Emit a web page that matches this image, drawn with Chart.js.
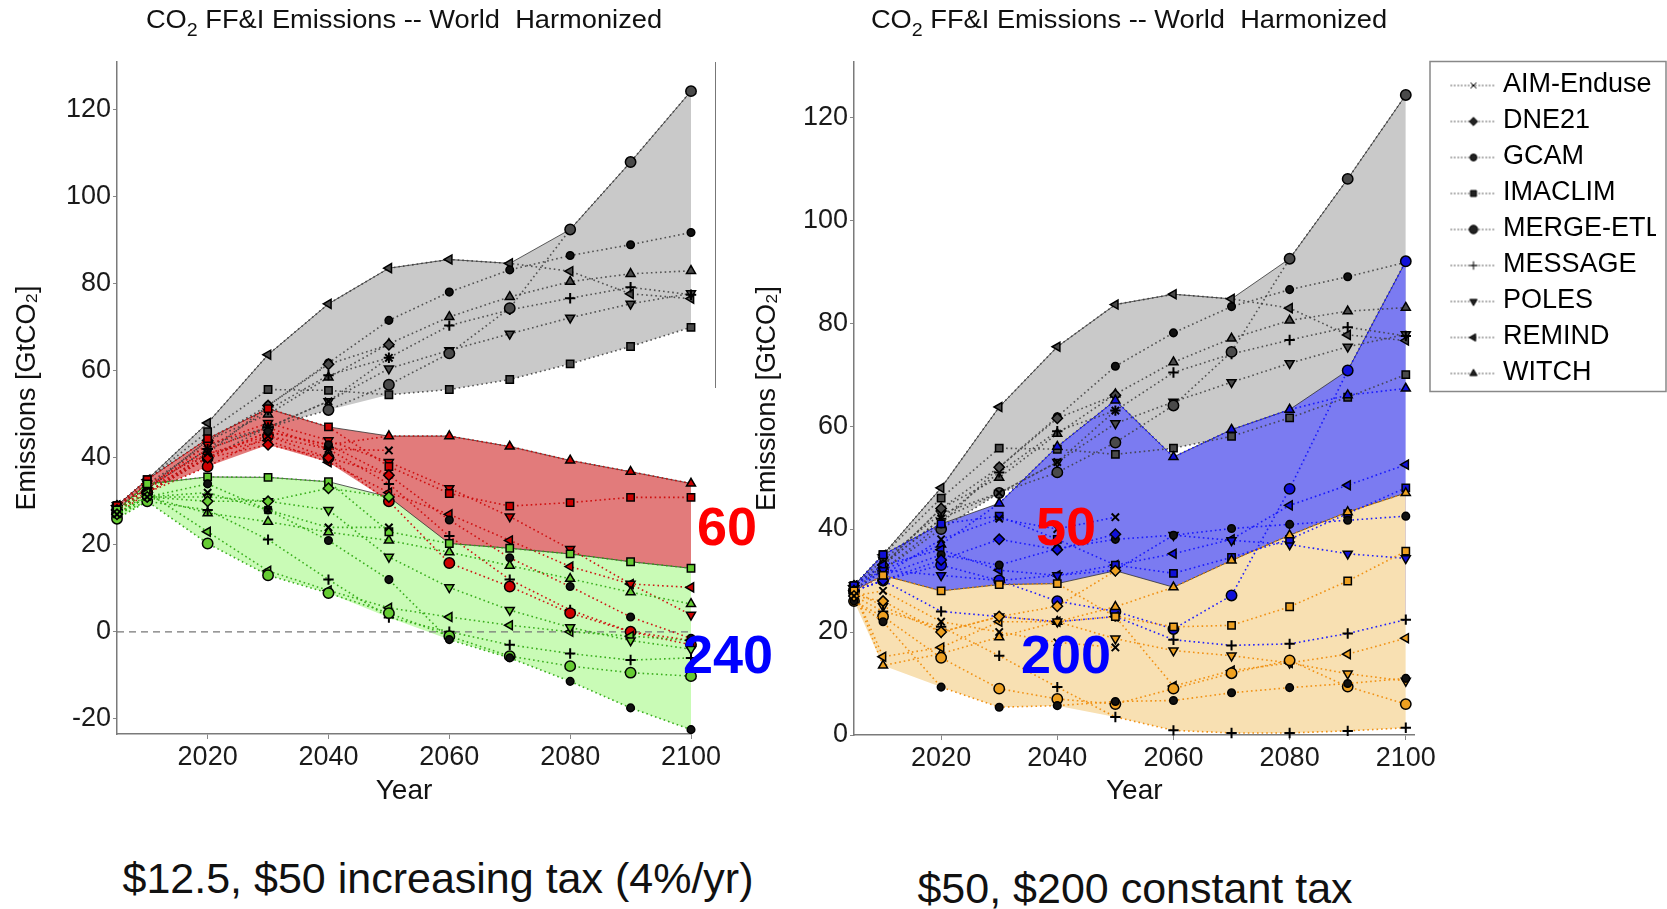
<!DOCTYPE html>
<html>
<head>
<meta charset="utf-8">
<script src="https://cdn.jsdelivr.net/npm/chart.js@4.4.1/dist/chart.umd.min.js"></script>
<style>
  body { margin: 0; background: #fff; width: 1667px; height: 909px; position: relative; overflow: hidden;
         font-family: "Liberation Sans", Arial, sans-serif; color: #111; }
  canvas { position: absolute; top: 0; }
  .title { position: absolute; top: 5px; font-size: 25px; white-space: pre; transform: translateX(-50%) scaleX(1.09); }
  .title sub { font-size: 18px; vertical-align: -8px; }
  .tag { position: absolute; font-weight: bold; font-size: 54px; transform: translate(-50%, -50%); }
  .caption { position: absolute; font-size: 43px; white-space: pre; transform: translate(-50%, -50%); }
  #edge { position: absolute; left: 715px; top: 62px; height: 326px; border-left: 1.5px solid #777; }
</style>
</head>
<body>
<canvas id="left" width="740" height="812" style="left:0"></canvas>
<canvas id="right" width="947" height="812" style="left:720px"></canvas>
<div id="edge"></div>

<div class="title" style="left:404px">CO<sub>2</sub> FF&amp;I Emissions -- World  Harmonized</div>
<div class="title" style="left:1129px">CO<sub>2</sub> FF&amp;I Emissions -- World  Harmonized</div>

<div class="tag" style="left:727px;top:526px;color:#f00">60</div>
<div class="tag" style="left:728px;top:654px;color:#00f">240</div>
<div class="tag" style="left:1066px;top:526px;color:#f00">50</div>
<div class="tag" style="left:1066px;top:654px;color:#00f">200</div>

<div class="caption" style="left:438px;top:878px">$12.5, $50 increasing tax (4%/yr)</div>
<div class="caption" style="left:1135px;top:888px">$50, $200 constant tax</div>

<script>
// ── Data (GtCO2 per model, one value per year) ───────────────────
const years = [2005, 2010, 2020, 2030, 2040, 2050, 2060, 2070, 2080, 2090, 2100];
const models = ['AIM-Enduse', 'DNE21', 'GCAM', 'IMACLIM', 'MERGE-ETL', 'MESSAGE', 'POLES', 'REMIND', 'WITCH'];
const xTicks = [2020, 2040, 2060, 2080, 2100];
const yTicksLeft = [-20, 0, 20, 40, 60, 80, 100, 120];
const yTicksRight = [0, 20, 40, 60, 80, 100, 120];

// baseline, shared by both panels
const baseline = [
    [29, 33, 42, 47, 53, 63, null, null, null, null, null],
    [29, 33, 44, 52, 61.5, 66, null, null, null, null, null],
    [28, 32, 41, 52, 61.8, 71.6, 78.1, 83.2, 86.5, 89, 91.8],
    [29, 35, 46, 55.7, 55.5, 54.5, 55.7, 58, 61.6, 65.6, 70],
    [28, 32, 40, 47, 51, 56.8, 64, 74.4, 92.5, 108, 124.3],
    [29, 33, 42, 51, 59, 63, 70.4, 74, 76.7, 79.2, 77.5],
    [29, 34, 43, 47, 53, 60.5, 64.7, 68.5, 72.2, 75.4, 77.8],
    [29, 35, 48, 63.7, 75.4, 83.6, 85.6, 84.7, 82.9, 77.7, 76.6],
    [28, 33, 44, 50, 58.5, 66.2, 72.4, 77, 80.5, 82.3, 83]
];

// $12.5 increasing tax (red)
const incrLow = [
    [28, 32, 41, 45, 42, 41.7, null, null, null, null, null],
    [28, 32, 40, 43, 40, 36, null, null, null, null, null],
    [28, 32, 40, 46, 43, 36, 25.7, 17, 10.4, 3.4, -1.5],
    [29, 35, 44.4, 51.3, 47.1, 38, 31.8, 28.9, 29.7, 30.9, 30.9],
    [27, 32, 38, 45, 40, 30, 15.8, 10.4, 4.3, 0, -3],
    [28, 33, 42, 47, 42, 34, 22, 12, 5, 0, -2],
    [29, 33, 43, 48, 44, 39, 33, 26.5, 19, 11, 3.9],
    [29, 34, 41, 44, 39, 32, 27, 21, 15, 11, 10.2],
    [28, 33, 40, 46, 43, 45, 45, 42.6, 39.4, 36.8, 34.1]
];

// $50 increasing tax (green)
const incrHigh = [
    [27, 31, 32, 28, 24, 24, null, null, null, null, null],
    [27, 31, 30, 30, 33, 31, null, null, null, null, null],
    [27, 31, 34, 28, 21, 12, -1.8, -6, -11.4, -17.5, -22.5],
    [28, 34, 35.6, 35.5, 34.5, 23, 20.3, 19.2, 17.9, 16.1, 14.6],
    [26, 30, 20.3, 13, 8.9, 4.3, -1, -5.6, -7.9, -9.4, -10.2],
    [27, 30, 28, 21.2, 12, 3.3, 0, -3, -5, -6.5, -6],
    [28, 31, 31, 30, 28, 17.2, 10.2, 5, 1, -2, -4],
    [28, 32, 23, 14, 9.5, 5.5, 3.4, 1.5, 0, -1, -2],
    [27, 31, 27.3, 25.3, 22.9, 21, 18.3, 15.2, 12.2, 9.1, 6.4]
];

// $50 constant tax (blue)
const constLow = [
    [28, 31, 38, 42, 40, 42.3, null, null, null, null, null],
    [28, 30, 34, 38, 36, 39, null, null, null, null, null],
    [28, 31, 35, 33, 36.2, 38, 38.8, 40.1, 40.9, 41.7, 42.5],
    [29, 35, 41, 42.5, 38, 33, 31.4, 34.5, 38, 43, 48],
    [28, 30, 33, 30, 26, 24, 20.6, 27.1, 47.8, 70.8, 92],
    [28, 30, 24, 23, 22, 23, 18.5, 17.4, 17.7, 19.7, 22.4],
    [29, 32, 31, 30, 31, 32, 38.8, 37.8, 37, 35.2, 34.3],
    [29, 33, 36, 32, 31, 33, 35.2, 38, 44.6, 48.5, 52.5],
    [28, 32, 37, 45, 56, 65, 54, 59.3, 63.2, 66, 67.3]
];

// $200 constant tax (orange)
const constHigh = [
    [27, 28, 22, 20, 18, 17, null, null, null, null, null],
    [27, 26, 20, 23, 25, 31.9, null, null, null, null, null],
    [26, 22, 9.3, 5.4, 5.7, 6.5, 6.7, 8.2, 9.2, 10, 11],
    [28, 31, 28, 29.2, 29.4, 23, 21, 21.3, 24.9, 29.9, 35.7],
    [26, 23, 15, 9, 7, 6, 9, 12, 14.5, 9.4, 6],
    [27, 24, 21, 15.4, 9.3, 3.5, 0.9, 0.4, 0.4, 0.8, 1.4],
    [28, 25, 20, 23, 22, 18.7, 16.4, 15.4, 14, 11.9, 10.5],
    [28, 15.2, 17, 22, 22, 23, 9.5, 12.5, 14, 15.7, 18.8],
    [28, 13.5, 15.8, 19, 22, 24.9, 28.7, 33.9, 38.8, 43.3, 47]
];

// ── Styles ───────────────────────────────────────────────────────
const pointStyles = ['crossRot', 'rectRot', 'circle', 'rect', 'circle', 'cross', 'triangle', 'triangle', 'triangle'];
const pointRot    = [0, 0, 0, 0, 0, 0, 180, 270, 0];

const GRAY   = { band: '#c9c9c9', line: 'rgba(60,60,60,0.85)', fill: '#4a4a4a' };
const RED    = { band: '#e27b7b', line: 'rgba(205,10,10,0.95)', fill: '#cc0000' };
const GREEN  = { band: '#c9fbb6', line: 'rgba(50,170,20,0.95)', fill: '#66cc33' };
const BLUE   = { band: '#7b7bf1', line: 'rgba(20,20,255,0.95)', fill: '#1010d8' };
const ORANGE = { band: '#f8e0b2', line: 'rgba(240,140,10,0.95)', fill: '#eea020' };

Chart.defaults.font.family = '"Liberation Sans", Arial, sans-serif';
Chart.defaults.color = '#222';

// ── Dataset builders ─────────────────────────────────────────────
function envelope(series, fn) {
    return years.map((x, i) => {
        const vals = series.map(s => s[i]).filter(v => v !== null);
        return { x, y: fn(...vals) };
    });
}

function bandSets(series, sc, order) {
    return [
        { data: envelope(series, Math.max), borderColor: 'rgba(40,40,40,0.75)', borderWidth: 1,
          pointRadius: 0, fill: false, order },
        { data: envelope(series, Math.min), borderColor: 'rgba(0,0,0,0)', borderWidth: 0,
          pointRadius: 0, fill: '-1', backgroundColor: sc.band, order }
    ];
}

function modelSets(series, sc, order) {
    return series.map((vals, m) => ({
        label: models[m],
        data: years.map((x, i) => ({ x, y: vals[i] })),
        borderColor: sc.line,
        borderWidth: 1.6,
        borderDash: [1.6, 3],
        pointStyle: pointStyles[m],
        pointRotation: pointRot[m],
        pointRadius: m === 2 ? 3.8 : 5.2,
        pointBackgroundColor: m === 2 ? '#111' : sc.fill,
        pointBorderColor: '#000',
        pointBorderWidth: (m === 0 || m === 5) ? 2 : 1.5,
        fill: false,
        clip: false,
        spanGaps: false,
        order
    }));
}

// ── Legend icons: dotted line with the marker ────────────────────
function legendIcon(m) {
    const c = document.createElement('canvas');
    c.width = 78; c.height = 20;
    const ctx = c.getContext('2d');
    ctx.strokeStyle = '#777';
    ctx.lineWidth = 1.3;
    ctx.setLineDash([1.5, 2]);
    ctx.beginPath(); ctx.moveTo(33, 11); ctx.lineTo(78, 11); ctx.stroke();
    ctx.setLineDash([]);
    ctx.fillStyle = '#222';
    ctx.strokeStyle = '#000';
    ctx.lineWidth = 1;
    Chart.helpers.drawPoint(ctx, { pointStyle: pointStyles[m], rotation: pointRot[m],
        radius: m === 2 ? 3.4 : 4.2, borderWidth: 1 }, 56, 11);
    return c;
}

const legendBox = {
    id: 'legendBox',
    afterDraw(chart) {
        const boxes = chart.legend && chart.legend.legendHitBoxes;
        if (!boxes || !boxes.length) return;
        const first = boxes[0], last = boxes[boxes.length - 1];
        const textX = first.left + 66 + 13.5;
        const right = Math.max(...boxes.map(b => b.left + b.width));
        const top = first.top + first.height / 2 - 23;
        const bottom = last.top + last.height / 2 + 19;
        const ctx = chart.ctx;
        ctx.save();
        ctx.strokeStyle = '#888';
        ctx.lineWidth = 1.5;
        ctx.strokeRect(textX - 73, top, Math.min(right + 9, chart.width - 1) - (textX - 73), bottom - top);
        ctx.restore();
    }
};

// ── Chart factory ────────────────────────────────────────────────
function makeChart(id, datasets, o) {
    return new Chart(document.getElementById(id), {
        type: 'line',
        data: { datasets },
        options: {
            responsive: false,
            animation: false,
            layout: { padding: o.padding },
            plugins: { legend: o.legend, tooltip: { enabled: false } },
            scales: {
                x: {
                    type: 'linear', min: 2005, max: o.xMax,
                    afterBuildTicks: s => { s.ticks = xTicks.map(v => ({ value: v })); },
                    afterFit: s => { s.height = o.xH; },
                    grid: { drawOnChartArea: false, tickLength: 5, color: '#888' },
                    border: { color: '#7a7a7a', width: 1.5 },
                    ticks: { font: { size: 27 }, padding: 2, maxRotation: 0, color: '#1a1a1a', callback: v => String(v) },
                    title: { display: true, text: 'Year', font: { size: 28 }, color: '#111',
                             padding: { top: 0, bottom: 4 } }
                },
                y: {
                    type: 'linear', min: o.yMin, max: o.yMax,
                    afterBuildTicks: s => { s.ticks = o.yTicks.map(v => ({ value: v })); },
                    afterFit: s => { s.width = o.yW; },
                    grid: { drawOnChartArea: false, tickLength: 4, color: '#888' },
                    border: { color: '#7a7a7a', width: 1.5 },
                    ticks: { font: { size: 27 }, padding: 2, color: '#1a1a1a', callback: v => String(v) },
                    title: { display: true, text: 'Emissions [GtCO₂]', font: { size: 27 }, color: '#111',
                             padding: { top: o.yTitlePad, bottom: 0 } }
                }
            }
        },
        plugins: o.plugins || []
    });
}

// ── Left panel: increasing tax ───────────────────────────────────
const zeroLine = {
    data: years.map(x => ({ x, y: 0 })),
    borderColor: '#777', borderWidth: 1.2, borderDash: [7, 5],
    pointRadius: 0, fill: false, order: 60
};

makeChart('left', [
    ...bandSets(baseline, GRAY, 100),
    ...bandSets(incrLow, RED, 90),
    ...bandSets(incrHigh, GREEN, 80),
    zeroLine,
    ...modelSets(baseline, GRAY, 30),
    ...modelSets(incrLow, RED, 20),
    ...modelSets(incrHigh, GREEN, 10)
], {
    padding: { top: 62, right: 49, left: 0, bottom: 0 },
    legend: { display: false },
    xMax: 2100, xH: 78,
    yMin: -23.5, yMax: 131, yTicks: yTicksLeft, yW: 117, yTitlePad: 11
});

// ── Right panel: constant tax, with legend ───────────────────────
const rightSets = [
    ...bandSets(baseline, GRAY, 100),
    ...bandSets(constLow, BLUE, 90),
    ...bandSets(constHigh, ORANGE, 80)
];
const baseIndex = rightSets.length;
rightSets.push(
    ...modelSets(baseline, GRAY, 30),
    ...modelSets(constLow, BLUE, 20),
    ...modelSets(constHigh, ORANGE, 10)
);

makeChart('right', rightSets, {
    padding: { top: 62, right: 11, left: 0, bottom: 0 },
    legend: {
        display: true, position: 'right', align: 'start', maxWidth: 241.5,
        labels: {
            usePointStyle: true, pointStyleWidth: 66, padding: 9,
            font: { size: 27 }, color: '#000',
            generateLabels: () => models.map((name, m) => ({
                text: name, pointStyle: legendIcon(m), datasetIndex: baseIndex + m,
                hidden: false, lineWidth: 0, fillStyle: '#000', strokeStyle: '#000', fontColor: '#000'
            }))
        }
    },
    plugins: [legendBox],
    xMax: 2101.5, xH: 77,
    yMin: 0, yMax: 130.7, yTicks: yTicksRight, yW: 134, yTitlePad: 31
});
</script>
</body>
</html>
